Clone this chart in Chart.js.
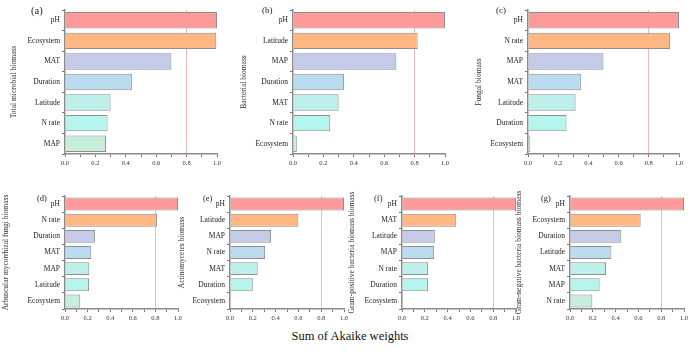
<!DOCTYPE html>
<html>
<head>
<meta charset="utf-8">
<script src="https://cdn.jsdelivr.net/npm/chart.js@4/dist/chart.umd.min.js"></script>
<style>
  html, body { margin:0; padding:0; background:#fff; }
  #wrap { position:relative; width:700px; height:356px; overflow:hidden; font-family:'Liberation Serif','Times New Roman',serif; }
  canvas { position:absolute; }
  .plab { position:absolute; color:#222; font-family:'Liberation Serif','Times New Roman',serif; }
  #xlab { position:absolute; left:0; width:700px; top:329px; text-align:center; font-size:12.5px; color:#111; }
</style>
</head>
<body>
<div id="wrap">
  <div id="xlab">Sum of Akaike weights</div>
</div>
<script>
// ---- data ----
const labelsA = ['pH','Ecosystem','MAT','Duration','Latitude','N rate','MAP'];
const valuesA = [1.0, 0.995, 0.70, 0.44, 0.30, 0.28, 0.27];
const labelsB = ['pH','Latitude','MAP','Duration','MAT','N rate','Ecosystem'];
const valuesB = [1.0, 0.82, 0.68, 0.335, 0.30, 0.245, 0.025];
const labelsC = ['pH','N rate','MAP','MAT','Latitude','Duration','Ecosystem'];
const valuesC = [1.0, 0.94, 0.50, 0.35, 0.315, 0.255, 0.015];
const labelsD = ['pH','N rate','Duration','MAT','MAP','Latitude','Ecosystem'];
const valuesD = [1.0, 0.815, 0.265, 0.232, 0.215, 0.212, 0.135];
const labelsE = ['pH','Latitude','MAP','N rate','MAT','Duration','Ecosystem'];
const valuesE = [1.0, 0.60, 0.36, 0.308, 0.243, 0.20, 0.009];
const labelsF = ['pH','MAT','Latitude','MAP','N rate','Duration','Ecosystem'];
const valuesF = [1.0, 0.476, 0.288, 0.282, 0.229, 0.229, 0.009];
const labelsG = ['pH','Ecosystem','Duration','Latitude','MAT','MAP','N rate'];
const valuesG = [1.0, 0.62, 0.45, 0.363, 0.316, 0.26, 0.196];
const axisTitles = ['Total microbial biomass','Bacterial biomass','Fungal biomass',
  'Arbuscular mycorrhizal fungi biomass','Actinomycetes biomass',
  'Gram-positive bacteria biomass biomass','Gram-negative bacteria biomass biomass'];
const panelTags = ['(a)','(b)','(c)','(d)','(e)','(f)','(g)'];
const xMin = 0, xMax = 1, xStep = 0.1, refValue = 0.8;

// ---- styling ----
const rankColors = ['#FF9A9A','#FFB784','#C5CAE9','#BBDCEF','#BDEFEB','#B5F5EE','#C6EEDB'];
const FONT = "'Liberation Serif','Times New Roman',serif";

const panels = [
  {labels:labelsA, values:valuesA, left:10,  top:0,   w:215, h:172, padTop:10, padR:8, yW:55, axisH:18, tag:[31,5,10.5]},
  {labels:labelsB, values:valuesB, left:240, top:0,   w:213, h:172, padTop:10, padR:8, yW:53, axisH:18, tag:[262,5,9]},
  {labels:labelsC, values:valuesC, left:475, top:0,   w:212, h:172, padTop:10, padR:8, yW:53, axisH:18, tag:[496,5,9]},
  {labels:labelsD, values:valuesD, left:2,   top:185, w:183, h:140, padTop:11, padR:7, yW:63, axisH:16, tag:[37,193,8.5]},
  {labels:labelsE, values:valuesE, left:178, top:185, w:173, h:140, padTop:11, padR:7, yW:52, axisH:16, tag:[203,193,8.5]},
  {labels:labelsF, values:valuesF, left:348, top:185, w:175, h:140, padTop:11, padR:7, yW:54, axisH:16, tag:[374,193,8.5]},
  {labels:labelsG, values:valuesG, left:515, top:185, w:177, h:140, padTop:11, padR:8, yW:55, axisH:16, tag:[541,193,8.5]},
];

const wrap = document.getElementById('wrap');
panels.forEach((p, i) => {
  const cv = document.createElement('canvas');
  cv.width = p.w; cv.height = p.h;
  cv.style.left = p.left + 'px'; cv.style.top = p.top + 'px';
  cv.style.width = p.w + 'px'; cv.style.height = p.h + 'px';
  wrap.appendChild(cv);

  const tag = document.createElement('div');
  tag.className = 'plab';
  tag.textContent = panelTags[i];
  tag.style.left = p.tag[0] + 'px'; tag.style.top = p.tag[1] + 'px';
  tag.style.fontSize = p.tag[2] + 'px';
  wrap.appendChild(tag);

  new Chart(cv, {
    type: 'bar',
    data: {
      labels: p.labels,
      datasets: [{
        data: p.values,
        backgroundColor: rankColors,
        borderColor: '#8F8F8F',
        borderWidth: 1,
        barPercentage: 0.8,
        categoryPercentage: 1.0
      }]
    },
    options: {
      indexAxis: 'y',
      responsive: false,
      animation: false,
      devicePixelRatio: 1,
      layout: { padding: { left: 0, top: p.padTop, right: p.padR, bottom: 0 } },
      plugins: { legend: { display: false }, tooltip: { enabled: false } },
      scales: {
        x: {
          type: 'linear', min: xMin, max: xMax,
          ticks: {
            stepSize: xStep, autoSkip: false, maxRotation: 0, padding: 2,
            color: '#333', font: { family: FONT, size: 6.5 },
            callback: v => (Math.round(v * 10) % 2 === 0) ? (Math.round(v * 10) / 10).toFixed(1) : ''
          },
          grid: {
            drawOnChartArea: true, drawTicks: true, tickLength: 3, tickColor: '#777',
            color: c => (c.tick && Math.abs(c.tick.value - refValue) < 1e-6) ? '#F3B9B9' : 'rgba(0,0,0,0)',
            lineWidth: 1
          },
          border: { display: true, color: '#8A8A8A', width: 1.5 },
          afterFit: s => { s.height = p.axisH; }
        },
        y: {
          ticks: { color: '#222', font: { family: FONT, size: 7.5 }, padding: 2, autoSkip: false },
          grid: { drawOnChartArea: false, drawTicks: true, tickLength: 3, tickColor: '#777' },
          border: { display: true, color: '#8A8A8A', width: 1.5 },
          title: { display: true, text: axisTitles[i], color: '#333', font: { family: FONT, size: 7.5 }, padding: { top: 0, bottom: 0 } },
          afterFit: s => { s.width = p.yW; }
        }
      }
    }
  });
});
</script>
</body>
</html>
